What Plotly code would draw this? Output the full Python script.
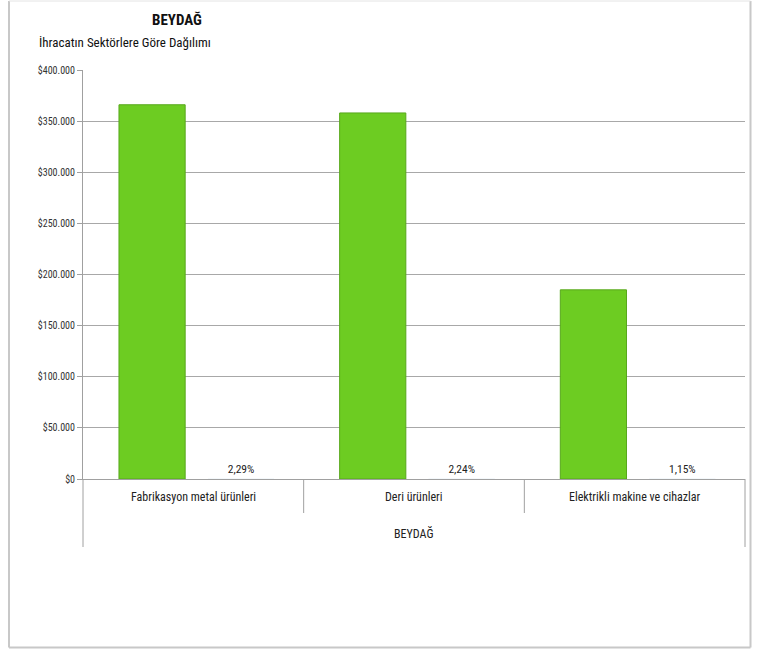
import plotly.graph_objects as go

categories = ["Fabrikasyon metal ürünleri", "Deri ürünleri", "Elektrikli makine ve cihazlar"]
export_values = [366000, 358000, 185000]
share_labels = ["2,29%", "2,24%", "1,15%"]
share_values = [2.29, 2.24, 1.15]
group_label = "BEYDAĞ"
title_text = "BEYDAĞ"
subtitle_text = "İhracatın Sektörlere Göre Dağılımı"
tick_vals = [0, 50000, 100000, 150000, 200000, 250000, 300000, 350000, 400000]
tick_labels = ["$0", "$50.000", "$100.000", "$150.000", "$200.000", "$250.000",
               "$300.000", "$350.000", "$400.000"]

FONT = "Liberation Sans Narrow, Roboto Condensed, Arial Narrow, Roboto, sans-serif"
idx = list(range(len(categories)))

# plot area sits at page x 83-745, y 70-479 (body margin removed below)
W, H = 757, 649
L, T = 83, 70
PW, PH = 662, 409

def px(xp):
    return (xp - L) / PW

def py(yp):
    return (T + PH - yp) / PH

fig = go.Figure()
fig.add_trace(go.Bar(
    x=idx, y=export_values, width=0.3, offset=-0.337,
    marker=dict(color="#6DCC22", line=dict(color="#58A81C", width=1)),
    hoverinfo="y", showlegend=False,
))
fig.add_trace(go.Bar(
    x=idx, y=share_values, width=0.3, offset=0.066,
    text=share_labels, textposition="outside", cliponaxis=False,
    textfont=dict(family=FONT, size=11.5, color="#222"),
    marker=dict(color="rgba(0,0,0,0)"),
    showlegend=False,
))

shapes = []
for i in idx[:-1]:
    shapes.append(dict(type="line", xref="x", yref="paper", x0=i + 0.5, x1=i + 0.5,
                       y0=0, y1=py(513), line=dict(color="#A0A0A0", width=1)))
for xp in [0, 1]:
    shapes.append(dict(type="line", xref="paper", yref="paper", x0=xp, x1=xp,
                       y0=0, y1=py(547), line=dict(color="#A0A0A0", width=1)))
border = dict(color="#C8C8C8", width=2)
shapes.append(dict(type="line", xref="paper", yref="paper", x0=px(9), x1=px(9),
                   y0=py(647.5), y1=py(1), line=border))
shapes.append(dict(type="line", xref="paper", yref="paper", x0=px(750.5), x1=px(750.5),
                   y0=py(647.5), y1=py(1), line=border))
shapes.append(dict(type="line", xref="paper", yref="paper", x0=px(9), x1=px(750.5),
                   y0=py(647.5), y1=py(647.5), line=border))
shapes.append(dict(type="line", xref="paper", yref="paper", x0=px(9), x1=px(750.5),
                   y0=py(1), y1=py(1), line=dict(color="#E4E4E4", width=1)))

annotations = []
for i, c in enumerate(categories):
    annotations.append(dict(x=i, y=py(497), xref="x", yref="paper", text=c, showarrow=False,
                            font=dict(family=FONT, size=12, color="#222"), yanchor="middle"))
annotations.append(dict(x=0.5, y=py(533), xref="paper", yref="paper", text=group_label,
                        showarrow=False, font=dict(family=FONT, size=12, color="#222"),
                        yanchor="middle"))
annotations.append(dict(x=px(150), y=py(20), xref="paper", yref="paper",
                        text="<b>" + title_text + "</b>", showarrow=False,
                        font=dict(family=FONT, size=15, color="#111"), yanchor="middle"))
annotations.append(dict(x=px(37), y=py(43), xref="paper", yref="paper",
                        text=subtitle_text, showarrow=False, xanchor="left",
                        font=dict(family=FONT, size=13, color="#111"), yanchor="middle"))

fig.update_layout(
    width=W, height=H,
    margin=dict(l=L, r=W - L - PW, t=T, b=H - T - PH, autoexpand=False),
    paper_bgcolor="white", plot_bgcolor="white",
    barmode="overlay",
    shapes=shapes, annotations=annotations,
    xaxis=dict(range=[-0.5, 2.5], showticklabels=False, showgrid=False, zeroline=False,
               showline=True, linecolor="#A0A0A0", linewidth=1, ticks=""),
    yaxis=dict(range=[0, 400000], tickmode="array", tickvals=tick_vals, ticktext=tick_labels,
               showgrid=True, gridcolor="#A8A8A8", gridwidth=1, zeroline=False,
               showline=True, linecolor="#A0A0A0", ticks="outside", ticklen=5,
               tickcolor="#A0A0A0",
               tickfont=dict(family=FONT, size=10, color="#333")),
)

fig.write_html(
    "out.html",
    config={"displayModeBar": False},
    post_script="document.body.style.margin='0';document.body.style.overflow='hidden';",
)
